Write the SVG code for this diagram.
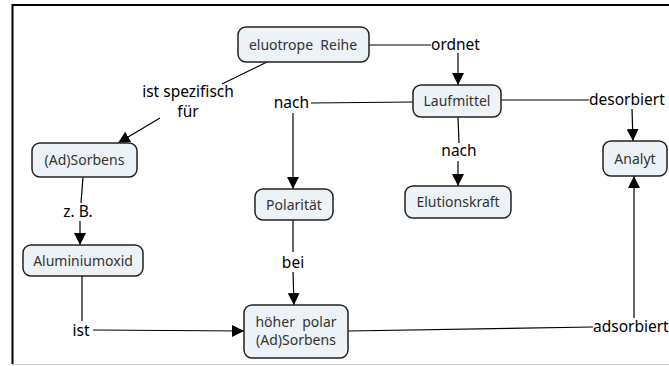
<svg xmlns="http://www.w3.org/2000/svg" width="669" height="366" viewBox="0 0 669 366">
<defs>
<marker id="ah" viewBox="0 0 12 12" refX="12" refY="6" markerWidth="12" markerHeight="12" markerUnits="userSpaceOnUse" orient="auto">
<path d="M0,0 L12,6 L0,12 Z" fill="#000"/>
</marker>
<style>
.n rect{fill:#edf2f6;stroke:#222;stroke-width:1.5}
.n text{font-family:"Noto Sans",sans-serif;font-size:14px;fill:#333;text-anchor:middle}
.l{font-family:"Noto Sans",sans-serif;font-size:15.5px;fill:#000}
.c line{stroke:#000;stroke-width:1.2}
.c .a{marker-end:url(#ah)}
</style>
</defs>
<rect x="0" y="0" width="669" height="366" fill="#fff"/>
<line x1="12.5" y1="5" x2="669" y2="5" stroke="#000" stroke-width="2"/>
<line x1="12.5" y1="4" x2="12.5" y2="364" stroke="#000" stroke-width="2"/>
<line x1="12" y1="364.5" x2="669" y2="364.5" stroke="#ccc" stroke-width="1.2"/>

<g class="c">
<line x1="369" y1="45" x2="431" y2="45"/>
<line class="a" x1="458" y1="53" x2="458" y2="85"/>
<line x1="413" y1="102" x2="311" y2="103"/>
<line class="a" x1="293" y1="113" x2="293" y2="189"/>
<line x1="458" y1="117" x2="459" y2="143"/>
<line class="a" x1="458" y1="161" x2="458" y2="186"/>
<line x1="501" y1="100" x2="589" y2="100"/>
<line class="a" x1="632" y1="109" x2="633" y2="141"/>
<line x1="267" y1="62" x2="222" y2="84"/>
<line class="a" x1="160" y1="118" x2="118" y2="143"/>
<line x1="83" y1="177" x2="81" y2="203"/>
<line class="a" x1="80" y1="221" x2="80" y2="245"/>
<line x1="82" y1="276" x2="82" y2="321"/>
<line class="a" x1="93" y1="330" x2="244" y2="331"/>
<line x1="293" y1="220" x2="293" y2="252"/>
<line class="a" x1="293" y1="272" x2="294" y2="305"/>
<line x1="348" y1="331" x2="593" y2="327"/>
<line class="a" x1="634" y1="318" x2="634" y2="176"/>
</g>

<g class="labels">
<text class="l" x="431" y="50">ordnet</text>
<text class="l" x="309" y="108" text-anchor="end">nach</text>
<text class="l" x="459" y="156" text-anchor="middle">nach</text>
<text class="l" x="589" y="105">desorbiert</text>
<text class="l" x="188" y="97" text-anchor="middle">ist spezifisch</text>
<text class="l" x="188" y="117" text-anchor="middle">für</text>
<text class="l" x="78" y="217" text-anchor="middle">z. B.</text>
<text class="l" x="81" y="336" text-anchor="middle">ist</text>
<text class="l" x="293" y="268" text-anchor="middle">bei</text>
<text class="l" x="593" y="332">adsorbiert</text>
</g>

<g id="eluotrope" class="n"><rect x="238" y="27" width="131" height="35" rx="8"/><text x="303" y="50">eluotrope&#160; Reihe</text></g>
<g id="laufmittel" class="n"><rect x="413" y="85" width="88" height="32" rx="8"/><text x="457" y="106">Laufmittel</text></g>
<g id="analyt" class="n"><rect x="603" y="141" width="64" height="35" rx="8"/><text x="635" y="163.5">Analyt</text></g>
<g id="adsorbens" class="n"><rect x="32" y="143" width="105" height="34" rx="8"/><text x="84.5" y="165">(Ad)Sorbens</text></g>
<g id="polaritaet" class="n"><rect x="255" y="189" width="78" height="31" rx="8"/><text x="294" y="209.5">Polarität</text></g>
<g id="elutionskraft" class="n"><rect x="405" y="186" width="106" height="32" rx="8"/><text x="458" y="207">Elutionskraft</text></g>
<g id="aluminiumoxid" class="n"><rect x="23" y="245" width="120" height="31" rx="8"/><text x="83" y="265.5">Aluminiumoxid</text></g>
<g id="hoeherpolar" class="n"><rect x="244" y="305" width="104" height="53" rx="8"/><text x="296" y="326.5">höher&#160; polar</text><text x="296" y="344.5">(Ad)Sorbens</text></g>
</svg>
